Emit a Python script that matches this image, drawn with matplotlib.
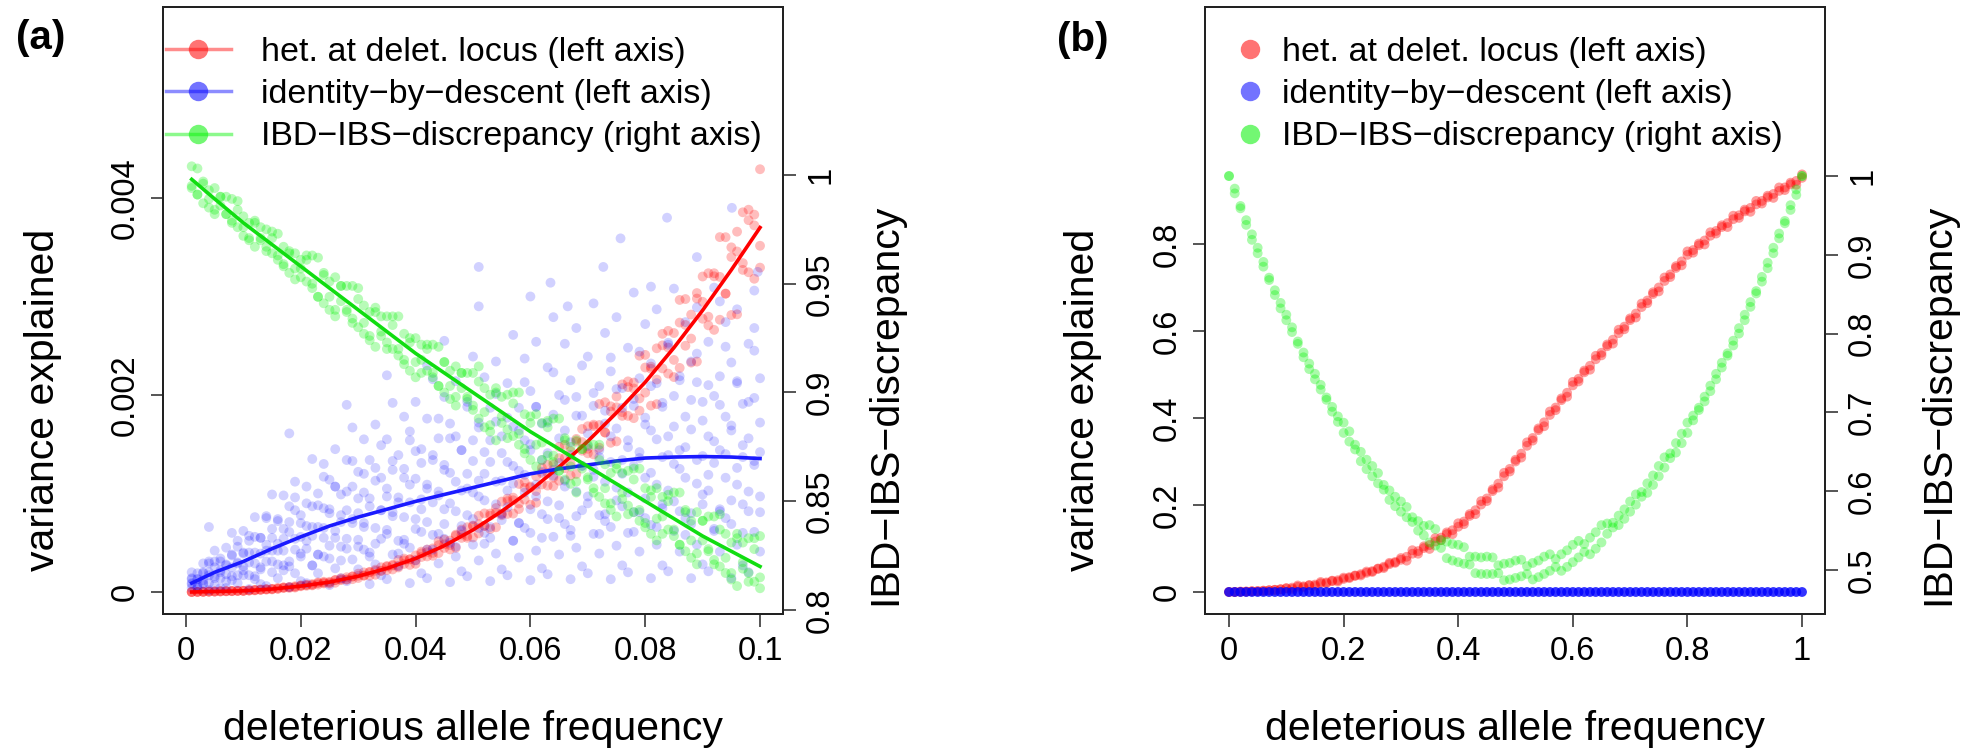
import matplotlib
matplotlib.use("Agg")
import matplotlib.pyplot as plt
from matplotlib.lines import Line2D
import numpy as np

plt.rcParams["font.family"] = ["Liberation Sans", "DejaVu Sans"]

# ---------------- panel (a): deleterious allele frequency 0.001 .. 0.100 ----------------
freq_a = np.arange(1, 101) / 1000

# variance explained by heterozygosity at the deleterious locus (units of 1e-3), three replicates
het_a1 = [.000, .001, .002, .004, .004, .007, .009, .008, .013, .011,
          .017, .016, .026, .029, .026, .042, .040, .050, .045, .067,
          .075, .067, .097, .087, .104, .094, .139, .150, .130, .186,
          .167, .200, .175, .251, .264, .229, .325, .285, .333, .286,
          .410, .431, .368, .515, .447, .522, .449, .634, .658, .554,
          .775, .671, .774, .657, .918, .948, .796, 1.097, .939, 1.071,
          .906, 1.261, 1.291, 1.075, 1.473, 1.256, 1.429, 1.198, 1.655, 1.683,
          1.397, 1.909, 1.619, 1.832, 1.529, 2.108, 2.138, 1.765, 2.399, 2.024,
          2.288, 1.907, 2.621, 2.651, 2.182, 2.965, 2.500, 2.816, 2.339, 3.203,
          3.236, 2.661, 3.603, 3.029, 3.401, 2.819, 3.855, 3.881, 3.180, 4.292]
het_a2 = [.000, .001, .002, .003, .005, .006, .007, .010, .010, .014,
          .014, .021, .022, .024, .032, .032, .047, .041, .059, .058,
          .063, .081, .075, .104, .086, .122, .120, .125, .157, .142,
          .199, .165, .227, .217, .221, .276, .249, .339, .275, .371,
          .355, .361, .443, .395, .531, .432, .582, .549, .550, .668,
          .595, .798, .640, .852, .795, .793, .958, .842, 1.116, .886,
          1.175, 1.092, 1.080, 1.295, 1.130, 1.494, 1.182, 1.554, 1.434, 1.408,
          1.683, 1.465, 1.926, 1.515, 1.984, 1.826, 1.788, 2.126, 1.841, 2.407,
          1.892, 2.474, 2.270, 2.217, 2.629, 2.275, 2.974, 2.329, 3.035, 2.774,
          2.707, 3.205, 2.764, 3.602, 2.812, 3.658, 3.339, 3.246, 3.831, 3.293]
het_a3 = [.000, .001, .002, .004, .005, .006, .008, .010, .011, .011,
          .017, .020, .022, .028, .031, .034, .045, .049, .051, .064,
          .070, .072, .090, .095, .095, .120, .128, .129, .158, .165,
          .167, .205, .214, .213, .257, .268, .266, .321, .330, .323,
          .392, .404, .397, .475, .484, .477, .571, .583, .568, .674,
          .688, .671, .796, .805, .779, .922, .931, .899, 1.057, 1.061,
          1.024, 1.205, 1.209, 1.161, 1.359, 1.362, 1.305, 1.526, 1.522, 1.454,
          1.699, 1.695, 1.619, 1.885, 1.875, 1.788, 2.080, 2.066, 1.965, 2.279,
          2.266, 2.157, 2.504, 2.482, 2.356, 2.735, 2.711, 2.573, 2.979, 2.946,
          2.795, 3.236, 3.199, 3.029, 3.499, 3.457, 3.270, 3.775, 3.722, 3.515]

# variance explained by identity-by-descent (units of 1e-3), six replicates
ibd_a1 = [.04, .04, .08, .02, .07, .04, .04, .12, .09, .17,
          .03, .13, .08, .06, .20, .14, .27, .05, .19, .11,
          .09, .27, .19, .36, .07, .24, .14, .11, .33, .23,
          .43, .08, .28, .17, .13, .38, .26, .49, .09, .32,
          .19, .14, .43, .29, .54, .10, .36, .21, .16, .48,
          .32, .60, .11, .39, .23, .17, .52, .35, .65, .12,
          .42, .24, .18, .56, .38, .69, .13, .45, .26, .19,
          .59, .39, .72, .13, .47, .27, .20, .61, .41, .75,
          .14, .48, .27, .21, .62, .41, .75, .14, .48, .28,
          .21, .62, .41, .75, .14, .48, .27, .20, .61, .41]
ibd_a2 = [.09, .07, .12, .09, .16, .14, .18, .25, .17, .26,
          .17, .29, .25, .31, .42, .28, .42, .26, .43, .36,
          .44, .57, .38, .55, .34, .55, .46, .54, .70, .46,
          .66, .40, .65, .54, .63, .81, .52, .76, .45, .74,
          .61, .71, .91, .59, .84, .50, .82, .67, .78, 1.01,
          .65, .93, .55, .89, .73, .86, 1.10, .70, 1.01, .60,
          .97, .79, .92, 1.18, .75, 1.07, .63, 1.02, .83, .97,
          1.24, .78, 1.12, .66, 1.06, .87, 1.01, 1.28, .81, 1.16,
          .68, 1.09, .89, 1.03, 1.30, .82, 1.16, .69, 1.10, .89,
          1.03, 1.31, .82, 1.16, .69, 1.09, .89, 1.02, 1.29, .81]
ibd_a3 = [.13, .13, .19, .20, .31, .22, .28, .38, .30, .40,
          .40, .56, .39, .48, .64, .49, .64, .61, .83, .56,
          .67, .87, .66, .85, .80, 1.07, .71, .83, 1.07, .80,
          1.01, .95, 1.26, .83, .97, 1.24, .91, 1.16, 1.09, 1.43,
          .94, 1.09, 1.39, 1.02, 1.29, 1.21, 1.58, 1.03, 1.20, 1.54,
          1.13, 1.42, 1.32, 1.73, 1.13, 1.32, 1.68, 1.23, 1.54, 1.44,
          1.88, 1.22, 1.41, 1.80, 1.31, 1.64, 1.52, 1.98, 1.28, 1.48,
          1.89, 1.37, 1.71, 1.58, 2.06, 1.34, 1.54, 1.96, 1.42, 1.77,
          1.64, 2.12, 1.37, 1.58, 1.99, 1.44, 1.78, 1.65, 2.13, 1.38,
          1.58, 1.99, 1.44, 1.78, 1.64, 2.12, 1.37, 1.56, 1.97, 1.42]
ibd_a4 = [.20, .19, .29, .29, .42, .31, .45, .60, .46, .62,
          .57, .76, .55, .77, .99, .74, .98, .87, 1.12, .78,
          1.07, 1.35, 1.00, 1.30, 1.14, 1.45, .99, 1.34, 1.67, 1.22,
          1.55, 1.34, 1.70, 1.16, 1.55, 1.92, 1.39, 1.78, 1.54, 1.93,
          1.31, 1.76, 2.16, 1.56, 1.98, 1.71, 2.14, 1.44, 1.93, 2.39,
          1.72, 2.18, 1.87, 2.34, 1.58, 2.12, 2.61, 1.87, 2.37, 2.04,
          2.54, 1.71, 2.28, 2.79, 2.00, 2.52, 2.15, 2.68, 1.79, 2.39,
          2.93, 2.09, 2.63, 2.24, 2.79, 1.87, 2.48, 3.04, 2.17, 2.72,
          2.32, 2.87, 1.92, 2.53, 3.08, 2.19, 2.74, 2.34, 2.89, 1.93,
          2.54, 3.09, 2.19, 2.74, 2.33, 2.87, 1.91, 2.52, 3.06, 2.17]
ibd_a5 = [.08, .05, .09, .17, .14, .20, .11, .16, .29, .22,
          .30, .16, .23, .42, .31, .42, .22, .31, .54, .39,
          .52, .27, .38, .65, .47, .62, .32, .44, .74, .53,
          .70, .36, .49, .83, .59, .77, .39, .53, .91, .64,
          .84, .43, .58, .98, .69, .90, .46, .62, 1.05, .74,
          .97, .49, .66, 1.12, .79, 1.03, .52, .70, 1.19, .84,
          1.09, .55, .74, 1.24, .88, 1.13, .57, .77, 1.28, .90,
          1.17, .59, .79, 1.32, .93, 1.20, .60, .81, 1.36, .95,
          1.21, .66, .85, 1.39, .92, 1.25, .58, .80, 1.34, .99,
          1.19, .64, .84, 1.40, .93, 1.26, .60, .82, 1.33, .97]
ibd_a6 = [.14, .13, .20, .31, .25, .34, .27, .37, .52, .39,
          .52, .40, .55, .75, .55, .72, .54, .71, .96, .70,
          .90, .66, .88, 1.17, .84, 1.07, .78, 1.02, 1.33, .95,
          1.20, .87, 1.13, 1.49, 1.05, 1.33, .96, 1.25, 1.63, 1.15,
          1.45, 1.05, 1.34, 1.76, 1.24, 1.56, 1.12, 1.44, 1.88, 1.33,
          1.67, 1.20, 1.54, 2.01, 1.41, 1.77, 1.28, 1.64, 2.13, 1.50,
          1.88, 1.34, 1.72, 2.23, 1.56, 1.95, 1.39, 1.79, 2.30, 1.61,
          2.02, 1.44, 1.84, 2.38, 1.66, 2.07, 1.47, 1.89, 2.44, 1.70,
          2.09, 1.55, 1.88, 2.51, 1.68, 2.15, 1.47, 1.95, 2.42, 1.74,
          2.10, 1.53, 1.90, 2.49, 1.69, 2.14, 1.49, 1.93, 2.45, 1.72]
# a few stray high IBD points
ibd_hi_x = [0.004, 0.018, 0.028, 0.035, 0.042, 0.045, 0.051, 0.051, 0.060, 0.0635,
            0.0665, 0.0727, 0.0757, 0.081, 0.0838, 0.089, 0.093, 0.0951, 0.099, 0.0996]
ibd_hi_y = [0.66, 1.61, 1.90, 2.20, 2.30, 2.55, 3.30, 2.90, 3.00, 3.14,
            2.90, 3.30, 3.59, 3.10, 3.80, 3.40, 2.95, 3.90, 2.68, 3.25]

# IBD-IBS discrepancy (right axis), three replicates
disc_a1 = [.994, 1.003, .987, .993, .982, .990, .990, .979, .988, .972,
           .978, .967, .976, .975, .964, .973, .958, .964, .952, .961,
           .963, .948, .962, .941, .951, .935, .949, .949, .934, .948,
           .927, .937, .921, .935, .935, .920, .935, .913, .923, .907,
           .922, .922, .907, .921, .900, .910, .894, .909, .909, .894,
           .912, .884, .899, .878, .898, .899, .880, .900, .872, .886,
           .866, .886, .887, .868, .888, .860, .875, .854, .874, .876,
           .856, .876, .849, .863, .843, .863, .864, .845, .865, .838,
           .852, .832, .852, .853, .834, .854, .827, .841, .821, .841,
           .843, .823, .844, .817, .831, .811, .831, .833, .813, .834]
disc_a2 = [1.004, .991, .996, .985, .994, .986, .982, .989, .976, .981,
           .970, .979, .971, .967, .974, .961, .967, .955, .964, .957,
           .951, .963, .944, .954, .938, .953, .942, .937, .949, .930,
           .940, .924, .939, .928, .923, .935, .917, .927, .910, .925,
           .915, .910, .922, .903, .914, .897, .912, .902, .897, .909,
           .888, .902, .882, .902, .889, .883, .900, .876, .890, .869,
           .890, .877, .871, .888, .864, .878, .858, .878, .865, .860,
           .876, .852, .867, .846, .867, .854, .848, .865, .841, .856,
           .835, .856, .843, .837, .854, .830, .845, .824, .845, .832,
           .827, .843, .820, .835, .814, .835, .822, .817, .833, .810]
disc_a3 = [.995, .991, .997, .989, .984, .990, .982, .978, .984, .976,
           .971, .978, .970, .965, .971, .963, .959, .965, .957, .953,
           .961, .950, .944, .955, .944, .938, .949, .938, .932, .943,
           .932, .926, .937, .926, .920, .931, .920, .915, .925, .914,
           .909, .920, .909, .903, .914, .903, .898, .909, .898, .892,
           .905, .891, .885, .900, .886, .879, .895, .881, .874, .889,
           .876, .869, .884, .871, .864, .879, .866, .859, .874, .861,
           .854, .869, .856, .849, .865, .851, .844, .860, .846, .840,
           .855, .842, .835, .850, .837, .830, .846, .832, .826, .841,
           .828, .821, .837, .824, .817, .833, .819, .813, .828, .815]

# fitted curves
fit_x = [0.001, 0.005, 0.010, 0.015, 0.020, 0.025, 0.030, 0.035, 0.040, 0.045, 0.050,
         0.055, 0.060, 0.065, 0.070, 0.075, 0.080, 0.085, 0.090, 0.095, 0.100]
het_fit = [0.0, 0.005, 0.012, 0.03, 0.06, 0.10, 0.16, 0.24, 0.34, 0.47, 0.63,
           0.82, 1.03, 1.27, 1.53, 1.82, 2.13, 2.48, 2.86, 3.27, 3.70]
ibd_fit = [0.09, 0.20, 0.31, 0.44, 0.56, 0.67, 0.76, 0.84, 0.92, 0.99, 1.06,
           1.13, 1.20, 1.25, 1.29, 1.33, 1.36, 1.37, 1.375, 1.37, 1.355]
disc_fit = [0.998, 0.989, 0.978, 0.968, 0.958, 0.948, 0.938, 0.928, 0.918, 0.909, 0.900,
            0.891, 0.882, 0.874, 0.866, 0.858, 0.850, 0.842, 0.834, 0.827, 0.820]

# ---------------- panel (b): deleterious allele frequency 0 .. 1 ----------------
freq_b = np.arange(0, 101) / 100

het_b1 = [.000,
          .000, .0005, .001, .0015, .002, .003, .004, .005, .0065, .008,
          .010, .012, .013, .015, .017, .020, .022, .025, .027, .030,
          .034, .037, .041, .044, .048, .053, .058, .064, .069, .074,
          .081, .088, .094, .101, .108, .116, .125, .133, .142, .150,
          .162, .175, .188, .201, .215, .232, .249, .266, .283, .300,
          .318, .336, .354, .372, .390, .407, .424, .441, .458, .475,
          .490, .505, .520, .535, .550, .565, .580, .595, .610, .625,
          .640, .655, .670, .685, .700, .715, .730, .745, .760, .775,
          .786, .797, .808, .819, .830, .839, .848, .857, .866, .875,
          .883, .891, .899, .907, .915, .922, .930, .937, .945, .952]
het_b2 = [.000,
          .000, .001, .001, .002, .002, .003, .004, .005, .006, .009,
          .007, .015, .011, .016, .014, .023, .020, .026, .024, .033,
          .032, .038, .038, .047, .046, .054, .055, .067, .067, .078,
          .072, .096, .088, .105, .099, .124, .119, .137, .133, .158,
          .156, .179, .179, .209, .209, .236, .240, .274, .277, .304,
          .309, .344, .348, .376, .381, .415, .418, .445, .449, .483,
          .484, .509, .511, .543, .544, .569, .571, .603, .604, .629,
          .631, .663, .664, .689, .691, .723, .724, .749, .751, .783,
          .780, .801, .799, .827, .824, .843, .839, .865, .860, .879,
          .874, .899, .893, .911, .906, .930, .924, .941, .936, .960]
ibd_b = [0.0] * 101

disc_b1 = [1.000,
           .978, .962, .938, .926, .909, .885, .871, .849, .839, .824,
           .802, .790, .770, .762, .749, .729, .719, .701, .695, .687,
           .663, .659, .638, .640, .632, .610, .608, .589, .593, .587,
           .567, .567, .550, .556, .557, .531, .538, .515, .533, .532,
           .508, .517, .496, .516, .517, .495, .506, .487, .509, .512,
           .492, .505, .488, .512, .517, .499, .514, .499, .525, .532,
           .516, .533, .520, .548, .557, .546, .560, .557, .577, .587,
           .583, .599, .598, .620, .632, .630, .648, .649, .673, .687,
           .690, .706, .714, .734, .749, .757, .775, .785, .807, .824,
           .834, .854, .866, .890, .909, .921, .943, .957, .983, 1.000]
disc_b2 = [1.000,
           .984, .959, .944, .919, .902, .891, .868, .855, .832, .817,
           .808, .787, .776, .755, .742, .735, .716, .707, .688, .674,
           .676, .653, .650, .628, .619, .623, .602, .601, .581, .574,
           .580, .561, .562, .544, .535, .552, .528, .536, .512, .510,
           .529, .507, .517, .495, .495, .516, .496, .508, .488, .490,
           .513, .495, .509, .491, .495, .520, .504, .520, .504, .510,
           .537, .523, .541, .527, .535, .559, .554, .569, .565, .574,
           .596, .593, .610, .608, .619, .643, .642, .661, .661, .674,
           .696, .703, .720, .727, .742, .763, .772, .791, .800, .817,
           .840, .851, .872, .883, .902, .927, .940, .963, .976, 1.000]

labels = ["het. at delet. locus (left axis)",
          "identity\u2212by\u2212descent (left axis)",
          "IBD\u2212IBS\u2212discrepancy (right axis)"]

# ---------------- drawing ----------------
W, H = 1982, 754
fig = plt.figure(figsize=(W / 100, H / 100), dpi=100)

RED_PT = (1, 0, 0, 0.26)
BLUE_PT = (0, 0, 1, 0.18)
GREEN_PT = (0, 0.95, 0, 0.28)
S = 50
TICK_FS = 23.5
LAB_FS = 29.5


def rect(left):
    return [left / W, (H - 614) / H, 620 / W, 607 / H]


def style(ax):
    ax.tick_params(direction="out", length=9, width=1.4, color="#555555",
                   labelsize=TICK_FS, pad=7)
    for s in ax.spines.values():
        s.set_linewidth(1.4)
        s.set_color("#222222")


def legend(ax, left, with_line):
    hs = []
    for c in [(1, 0, 0), (0, 0, 1), (0, 0.95, 0)]:
        if with_line:
            hs.append(Line2D([], [], color=c + (0.45,), lw=2.5, marker="o", ms=14,
                             mfc=c + (0.55,), mec="none"))
        else:
            hs.append(Line2D([], [], ls="none", marker="o", ms=14,
                             mfc=c + (0.55,), mec="none"))
    ax.legend(hs, labels, loc="upper left", bbox_to_anchor=(left / W, 1 - 37 / H),
              bbox_transform=fig.transFigure, frameon=False, fontsize=24.5,
              handlelength=1.9 if with_line else 0.8,
              handletextpad=0.9 if with_line else 0.55,
              labelspacing=0.33, borderaxespad=0, borderpad=0)


# ---- (a)
ax = fig.add_axes(rect(163))
for ys in (het_a1, het_a2, het_a3):
    ax.scatter(freq_a, ys, s=S, color=RED_PT, edgecolors="none")
for ys in (ibd_a1, ibd_a2, ibd_a3, ibd_a4, ibd_a5, ibd_a6):
    ax.scatter(freq_a, ys, s=S, color=BLUE_PT, edgecolors="none")
ax.scatter(ibd_hi_x, ibd_hi_y, s=S, color=BLUE_PT, edgecolors="none")
ax.plot(fit_x, het_fit, color="#ff0000", lw=2.6)
ax.plot(fit_x, ibd_fit, color="#1a1aff", lw=2.6)
ax.set_xlim(-0.004, 0.104)
ax.set_ylim(-0.2234, 5.939)
ax.set_xticks([0, 0.02, 0.04, 0.06, 0.08, 0.1])
ax.set_xticklabels(["0", "0.02", "0.04", "0.06", "0.08", "0.1"])
ax.set_yticks([0, 2, 4])
ax.set_yticklabels(["0", "0.002", "0.004"], rotation=90, va="center")
style(ax)

ax2 = ax.twinx()
for ys in (disc_a1, disc_a2, disc_a3):
    ax2.scatter(freq_a, ys, s=S, color=GREEN_PT, edgecolors="none")
ax2.plot(fit_x, disc_fit, color="#11dd11", lw=2.6)
ax2.set_ylim(0.79816, 1.07724)
ax2.set_yticks([0.8, 0.85, 0.9, 0.95, 1.0])
ax2.set_yticklabels(["0.8", "0.85", "0.9", "0.95", "1"], rotation=90, va="center")
style(ax2)
legend(ax2, 166, True)

# ---- (b)
bx = fig.add_axes(rect(1205))
for ys in (het_b1, het_b2):
    bx.scatter(freq_b, ys, s=S, color=(1, 0, 0, 0.38), edgecolors="none")
bx.scatter(freq_b, ibd_b, s=S, color=(0, 0, 1, 0.8), edgecolors="none")
bx.set_xlim(-0.0419, 1.0401)
bx.set_ylim(-0.0506, 1.3448)
bx.set_xticks([0, 0.2, 0.4, 0.6, 0.8, 1.0])
bx.set_xticklabels(["0", "0.2", "0.4", "0.6", "0.8", "1"])
bx.set_yticks([0, 0.2, 0.4, 0.6, 0.8])
bx.set_yticklabels(["0", "0.2", "0.4", "0.6", "0.8"], rotation=90, va="center")
style(bx)

bx2 = bx.twinx()
for ys in (disc_b1, disc_b2):
    bx2.scatter(freq_b, ys, s=S, color=(0, 0.95, 0, 0.33), edgecolors="none")
bx2.set_ylim(0.4442, 1.2145)
bx2.set_yticks([0.5, 0.6, 0.7, 0.8, 0.9, 1.0])
bx2.set_yticklabels(["0.5", "0.6", "0.7", "0.8", "0.9", "1"], rotation=90, va="center")
style(bx2)
legend(bx2, 1236, False)

# ---- labels
for cx in (473, 1515):
    fig.text(cx / W, 1 - 740 / H, "deleterious allele frequency", ha="center",
             va="baseline", fontsize=LAB_FS)
for lx, rx in ((43, 885), (1083, 1938)):
    fig.text(lx / W, 1 - 400 / H, "variance explained", rotation=90, ha="center",
             va="center", fontsize=LAB_FS)
    fig.text(rx / W, 1 - 404 / H, "IBD\u2212IBS\u2212discrepancy", rotation=90,
             ha="center", va="center", fontsize=LAB_FS)
fig.text(41 / W, 1 - 38 / H, "(a)", ha="center", va="center", fontsize=29,
         fontweight="bold")
fig.text(1083 / W, 1 - 40 / H, "(b)", ha="center", va="center", fontsize=29,
         fontweight="bold")

fig.savefig("out.png", dpi=100)
